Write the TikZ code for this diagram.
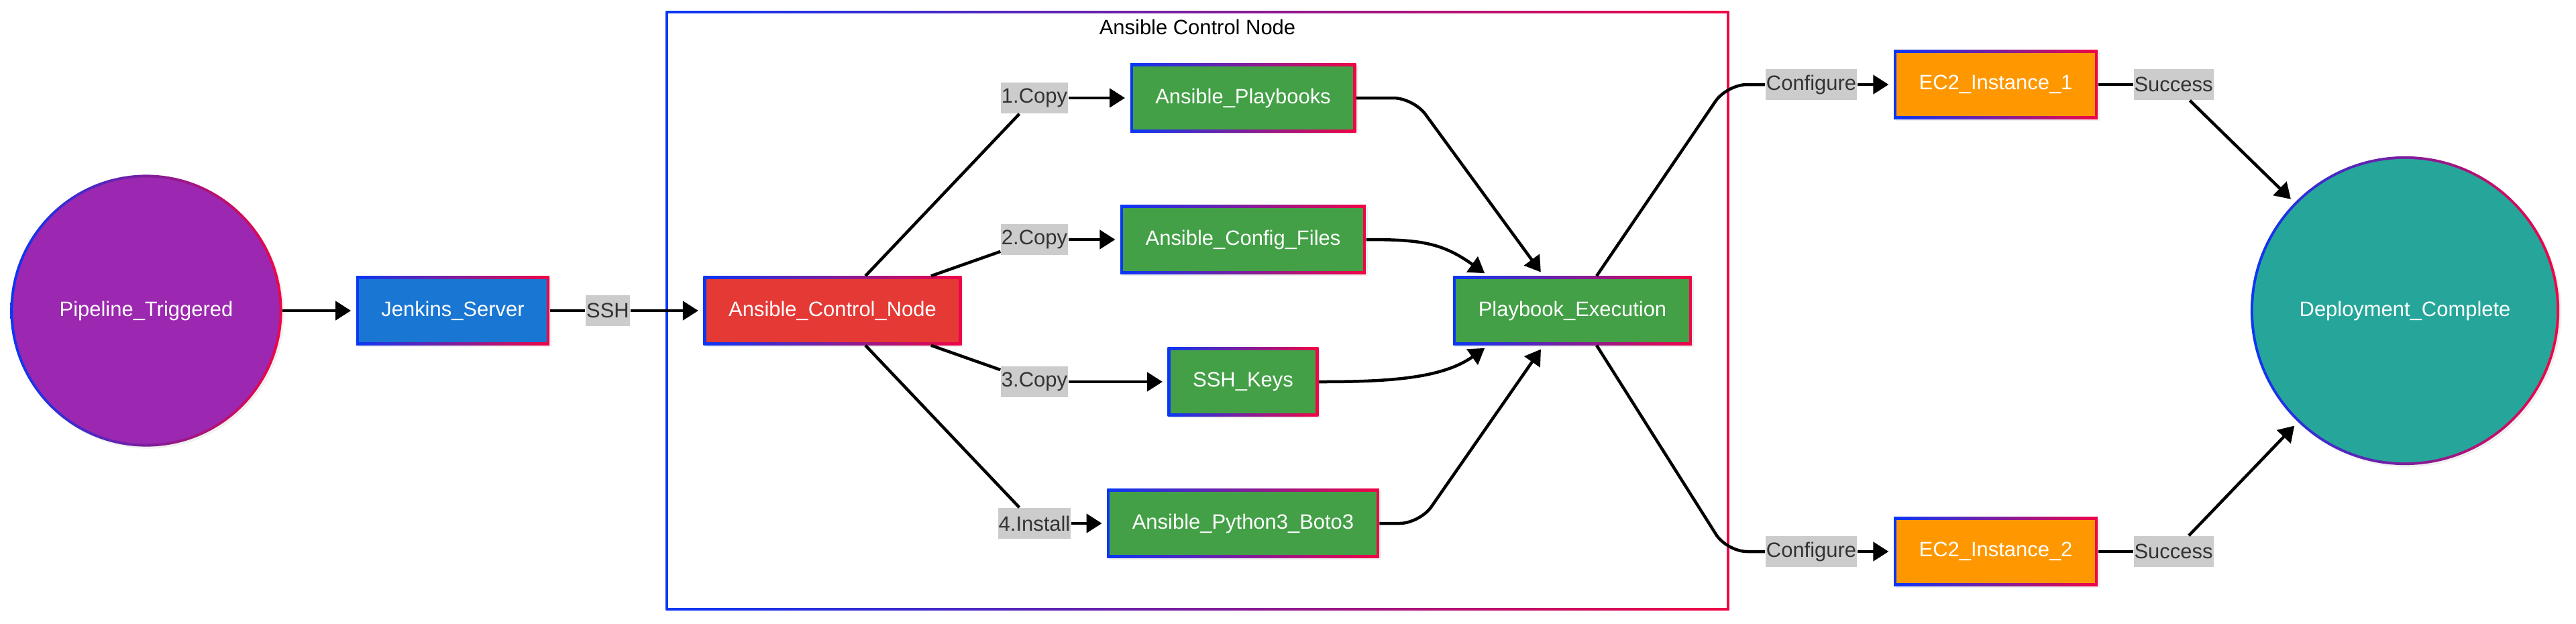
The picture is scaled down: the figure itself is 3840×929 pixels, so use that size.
\documentclass[tikz,border=0pt]{standalone}
\usepackage{fontspec}
\setmainfont{Liberation Sans}
\usetikzlibrary{arrows.meta,calc,shadows}

\definecolor{edgeblue}{RGB}{10,55,245}
\definecolor{edgered}{RGB}{240,5,70}
\definecolor{purp}{RGB}{156,39,176}
\definecolor{jblue}{RGB}{25,118,210}
\definecolor{cred}{RGB}{229,57,53}
\definecolor{ggreen}{RGB}{67,160,71}
\definecolor{gorange}{RGB}{255,152,0}
\definecolor{gteal}{RGB}{38,166,154}
\definecolor{taggray}{RGB}{204,204,204}
\definecolor{tagtext}{RGB}{51,51,51}

\begin{document}
\begin{tikzpicture}[
    x=0.01cm, y=-0.01cm,
    font=\fontsize{8.8}{10.5}\selectfont,
    gbox/.style={
      rectangle,
      minimum height=1.02cm,
      inner xsep=0.375cm,
      left color=edgeblue, right color=edgered,
      text=white,
      drop shadow={opacity=0.12, shadow xshift=0.03cm, shadow yshift=-0.03cm},
      path picture={\fill[#1] ([shift={(0.04cm,0.04cm)}]path picture bounding box.south west)
        rectangle ([shift={(-0.04cm,-0.04cm)}]path picture bounding box.north east);}
    },
    gdisc/.style={
      circle,
      inner sep=0pt,
      left color=edgeblue, right color=edgered,
      text=white,
      drop shadow={opacity=0.12, shadow xshift=0.03cm, shadow yshift=-0.03cm},
      path picture={\fill[#1] let \p1=(path picture bounding box.north east),
        \p2=(path picture bounding box.south west) in
        (path picture bounding box.center) circle[radius={(\x1-\x2)/2-0.04cm}];}
    },
    panel/.style={
      rectangle,
      minimum width=15.84cm, minimum height=8.92cm,
      left color=edgeblue, right color=edgered,
      path picture={\fill[white] ([shift={(0.03cm,0.03cm)}]path picture bounding box.south west)
        rectangle ([shift={(-0.03cm,-0.03cm)}]path picture bounding box.north east);}
    },
    edgetag/.style={
      fill=taggray,
      text=tagtext,
      inner xsep=0.01cm, inner ysep=0pt,
      minimum height=0.46cm
    },
    link/.style={line width=0.045cm},
    flow/.style={link, -{Triangle[length=0.23cm, width=0.28cm]}, shorten >=0.07cm}
  ]

    \useasboundingbox (0,0) rectangle (3840,929);

    \node[panel] (ctrl) at (1785,463) {};
    \node (ctitle) at (1785,40) {Ansible Control Node};

    \node[gdisc=purp, minimum size=4.05cm] (pipe) at (218,463) {Pipeline\_Triggered};
    \node[gbox=jblue] (jenk) at (675,463) {Jenkins\_Server};
    \node[edgetag] (ssh) at (906,463) {SSH};

    \node[gbox=cred] (acn) at (1241,463) {Ansible\_Control\_Node};

    \node[edgetag] (c1) at (1542,146) {1.Copy};
    \node[edgetag] (c2) at (1542,357) {2.Copy};
    \node[edgetag] (c3) at (1542,569) {3.Copy};
    \node[edgetag] (c4) at (1542,780) {4.Install};

    \node[gbox=ggreen] (pb) at (1853,146) {Ansible\_Playbooks};
    \node[gbox=ggreen] (cf) at (1853,357) {Ansible\_Config\_Files};
    \node[gbox=ggreen] (sk) at (1853,569) {SSH\_Keys};
    \node[gbox=ggreen] (bt) at (1853,780) {Ansible\_Python3\_Boto3};

    \node[gbox=ggreen] (pe) at (2344,463) {Playbook\_Execution};

    \node[edgetag] (cfgA) at (2700,126) {Configure};
    \node[edgetag] (cfgB) at (2700,822) {Configure};
    \node[gbox=gorange] (ecA) at (2975,126) {EC2\_Instance\_1};
    \node[gbox=gorange] (ecB) at (2975,822) {EC2\_Instance\_2};
    \node[edgetag] (okA) at (3240,126) {Success};
    \node[edgetag] (okB) at (3240,822) {Success};

    \node[gdisc=gteal, minimum size=4.6cm] (dc) at (3585,463) {Deployment\_Complete};

    \draw[flow] (pipe) -- (jenk);
    \draw[link] (jenk) -- (ssh);
    \draw[flow] (ssh) -- (acn);

    \draw[link] (acn) -- (c1);
    \draw[link] (acn) -- (c2);
    \draw[link] (acn) -- (c3);
    \draw[link] (acn) -- (c4);
    \draw[flow] (c1) -- (pb);
    \draw[flow] (c2) -- (cf);
    \draw[flow] (c3) -- (sk);
    \draw[flow] (c4) -- (bt);

    \draw[flow, rounded corners=0.3cm] (pb.east) -- ([xshift=0.85cm]pb.east) -- ([xshift=-0.43cm]pe.north);
    \draw[flow] (cf.east) .. controls +(0.8cm,0) and +(-0.7cm,0.5cm) .. ([xshift=-1.25cm]pe.north);
    \draw[flow] (sk.east) .. controls +(1.0cm,0) and +(-0.7cm,-0.5cm) .. ([xshift=-1.25cm]pe.south);
    \draw[flow, rounded corners=0.3cm] (bt.east) -- ([xshift=0.6cm]bt.east) -- ([xshift=-0.43cm]pe.south);

    \draw[link, rounded corners=0.3cm] ([xshift=0.36cm]pe.north) -- ([xshift=-0.57cm]cfgA.west) -- (cfgA.west);
    \draw[link, rounded corners=0.3cm] ([xshift=0.36cm]pe.south) -- ([xshift=-0.57cm]cfgB.west) -- (cfgB.west);
    \draw[flow] (cfgA) -- (ecA);
    \draw[flow] (cfgB) -- (ecB);
    \draw[link] (ecA) -- (okA);
    \draw[link] (ecB) -- (okB);
    \draw[flow] (okA) -- (dc);
    \draw[flow] (okB) -- (dc);

  \end{tikzpicture}
\end{document}
